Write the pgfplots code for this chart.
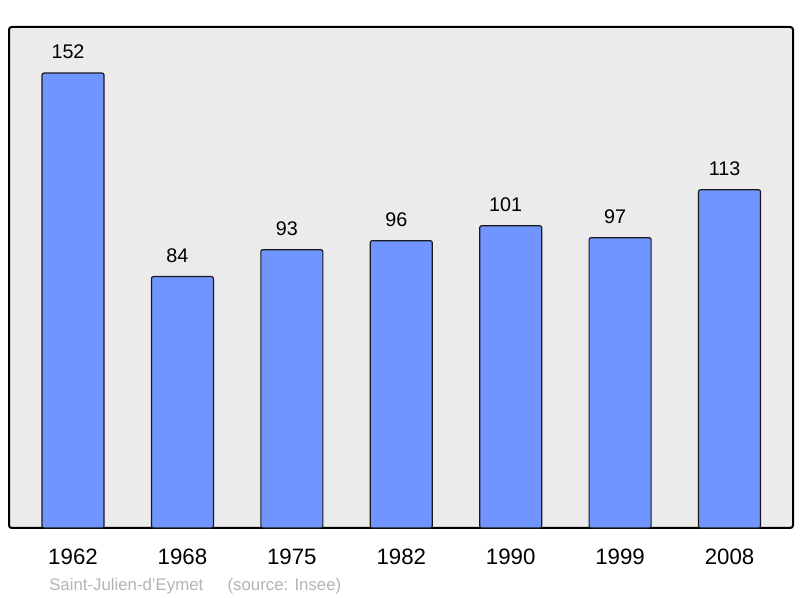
\documentclass[border=0pt]{standalone}
\usepackage{pgfplots}
\pgfplotsset{compat=1.18}
\usepackage{fontspec}
\setmainfont{Liberation Sans}
\definecolor{barfill}{HTML}{7095FF}
\definecolor{bgc}{HTML}{EBEBEB}
\definecolor{srcgray}{HTML}{B4B4B4}
\begin{document}
\begin{tikzpicture}
\path[use as bounding box] (-6.75pt,-52.5pt) rectangle (593.25pt,396pt);
\begin{axis}[
  at={(0,0)}, anchor=south west,
  scale only axis, width=588pt, height=375.75pt,
  xmin=-0.585, xmax=6.58, ymin=0, ymax=167.4,
  axis background/.style={fill=bgc},
  axis line style={line width=1.5pt, rounded corners=2pt},
  ytick=\empty,
  xtick={0,1,2,3,4,5,6},
  xticklabels={1962,1968,1975,1982,1990,1999,2008},
  major tick length=0pt,
  xticklabel style={font=\fontsize{16.7}{18}\selectfont, yshift=-12.5pt},
  /pgf/number format/assume math mode=true,
  clip=false,
]
\addplot[ybar, bar width=46.5pt, fill=barfill, draw=black!90, line width=0.9pt, rounded corners=1.5pt,
  nodes near coords, nodes near coords style={font=\fontsize{14.8}{16}\selectfont, yshift=7pt, xshift=-3.75pt}]
  coordinates {(0,152) (1,84) (2,93) (3,96) (4,101) (5,97) (6,113)};
\end{axis}
\node[anchor=base west, text=srcgray, inner sep=0pt, font=\fontsize{12.6}{14}\selectfont] at (30pt,-47pt) {Saint-Julien-d\symbol{39}Eymet\hspace{1.45em}(source: Insee)};
\end{tikzpicture}
\end{document}
